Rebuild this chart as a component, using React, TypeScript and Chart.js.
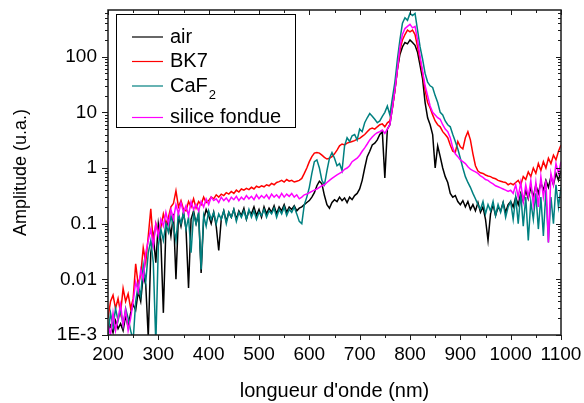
import React, { useEffect, useRef } from 'react';
import { Chart, registerables } from 'chart.js';

Chart.register(...registerables);

// Spectra sampled every 5 nm from 200 nm to 1100 nm
const WL_START = 200;
const WL_STEP = 5;

const air = [
  0.0012, 0.0015, 0.0011, 0.0018, 0.0013, 0.0016, 0.0012, 0.0022, 0.0014, 0.0025,
  0.0035, 0.0028, 0.006, 0.004, 0.012, 0.008, 0.0009, 0.03, 0.06, 0.02,
  0.1, 0.05, 0.0025, 0.08, 0.12, 0.06, 0.15, 0.01, 0.14, 0.09,
  0.16, 0.08, 0.007, 0.12, 0.17, 0.1, 0.15, 0.013, 0.12, 0.18,
  0.14, 0.1, 0.16, 0.09, 0.033, 0.12, 0.17, 0.11, 0.16, 0.13,
  0.18, 0.12, 0.17, 0.14, 0.19, 0.12, 0.17, 0.15, 0.2, 0.14,
  0.18, 0.13, 0.2, 0.15, 0.19, 0.16, 0.21, 0.15, 0.2, 0.17,
  0.22, 0.16, 0.2, 0.18, 0.21, 0.17, 0.19, 0.2, 0.22, 0.24,
  0.26, 0.3, 0.36, 0.48, 0.58, 0.52, 0.32, 0.22, 0.19, 0.24,
  0.27, 0.25, 0.3, 0.26, 0.29, 0.24, 0.3, 0.27, 0.32, 0.35,
  0.42, 0.6, 1.0, 1.6, 2.0, 2.6, 2.8, 3.2, 4.0, 4.5,
  0.66, 5.0, 6.0, 12, 25, 60, 110, 150, 180, 170,
  200, 180, 160, 120, 70, 40, 15, 8, 6, 4,
  1.0, 2.5, 1.6, 1.0, 0.7, 0.55, 0.35, 0.3, 0.32, 0.25,
  0.22, 0.26, 0.2, 0.25, 0.18, 0.22, 0.17, 0.24, 0.16, 0.2,
  0.12, 0.05, 0.15, 0.22, 0.14, 0.2, 0.17, 0.24, 0.16, 0.22,
  0.25, 0.2, 0.3, 0.22, 0.35, 0.25, 0.4, 0.28, 0.45, 0.3,
  0.5, 0.35, 0.55, 0.4, 0.6, 0.45, 0.7, 0.5, 0.8, 0.6,
  0.9,
];

const bk7 = [
  0.002, 0.004, 0.0052, 0.003, 0.0045, 0.0025, 0.0069, 0.004, 0.0055, 0.003,
  0.0045, 0.019, 0.008, 0.012, 0.037, 0.02, 0.06, 0.185, 0.044, 0.1,
  0.07, 0.085, 0.15, 0.1, 0.13, 0.2, 0.23, 0.39, 0.2, 0.26,
  0.18, 0.17, 0.25, 0.2, 0.28, 0.19, 0.25, 0.22, 0.3, 0.24,
  0.26, 0.3, 0.28, 0.33, 0.3, 0.34, 0.32, 0.36, 0.34, 0.38,
  0.35, 0.4, 0.37, 0.42, 0.4, 0.43, 0.41, 0.45, 0.42, 0.47,
  0.45, 0.48, 0.46, 0.5, 0.48, 0.53, 0.5, 0.55, 0.57, 0.6,
  0.56, 0.62, 0.58, 0.6, 0.56, 0.58, 0.6, 0.65, 0.8, 1.0,
  1.3, 1.6, 1.85, 1.9, 1.85, 1.7, 1.55, 1.45, 1.5, 1.6,
  1.8, 2.1, 2.5, 2.7, 2.6, 2.8, 2.9, 3.0, 3.1, 3.3,
  3.4, 3.7, 4.0, 4.5, 5.0, 5.2, 5.0, 5.5, 6.0, 6.2,
  5.5, 6.5, 7, 12, 25, 60, 130, 200, 250, 300,
  280, 300, 250, 150, 90, 50, 25, 15, 12, 9,
  7, 6, 5.5, 4.5, 4.0, 3.5, 2.6, 2.0, 1.9, 3.0,
  2.4, 2.2, 3.5, 4.5, 3.2, 1.8, 1.1, 0.88, 0.82, 0.8,
  0.75, 0.72, 0.7, 0.66, 0.64, 0.6, 0.58, 0.56, 0.55, 0.5,
  0.53, 0.5, 0.55, 0.6, 0.5, 0.7, 0.62, 0.85, 0.7, 1.0,
  0.8, 1.2, 0.9, 1.3, 1.0, 1.5, 1.2, 1.7, 1.4, 2.0,
  2.6,
];

const caf2 = [
  0.001, 0.0025, 0.0014, 0.003, 0.0018, 0.0028, 0.0015, 0.003, 0.002, 0.0012,
  0.0008, 0.004, 0.008, 0.005, 0.018, 0.009, 0.03, 0.05, 0.02, 0.0007,
  0.04, 0.08, 0.05, 0.1, 0.07, 0.14, 0.09, 0.05, 0.15, 0.1,
  0.16, 0.08, 0.13, 0.03, 0.15, 0.1, 0.16, 0.015, 0.14, 0.09,
  0.17, 0.12, 0.16, 0.1, 0.15, 0.12, 0.17, 0.1, 0.16, 0.13,
  0.18, 0.11, 0.16, 0.13, 0.17, 0.12, 0.18, 0.13, 0.17, 0.12,
  0.16, 0.14, 0.18, 0.13, 0.17, 0.15, 0.19, 0.13, 0.18, 0.15,
  0.2, 0.14, 0.18, 0.16, 0.2, 0.15, 0.11, 0.1, 0.22, 0.3,
  0.45, 0.8, 1.3, 1.4, 1.0, 0.6, 0.5, 0.9, 1.5, 1.9,
  1.5, 1.1, 1.2, 0.9, 2.5, 3.5, 3.0, 3.8, 4.0, 3.2,
  5.0, 4.5, 6.5, 8.0, 9.5, 8.5, 7.5, 6.5, 7.0, 8.5,
  10, 13, 9, 18, 35, 90, 200, 400, 500, 450,
  600, 550, 600, 300, 150, 90, 50, 35, 30, 28,
  20, 15, 10, 9, 7, 6, 5.5, 4, 3, 2.2,
  1.5, 1.0, 0.7, 0.55, 0.45, 0.35, 0.28, 0.22, 0.18, 0.25,
  0.15, 0.22, 0.17, 0.25, 0.14, 0.22, 0.16, 0.24, 0.13, 0.2,
  0.25, 0.12, 0.3, 0.1, 0.35, 0.09, 0.3, 0.05, 0.25, 0.12,
  0.35, 0.08, 0.3, 0.06, 0.4, 0.046, 0.3, 0.1, 0.5, 0.2,
  0.45,
];

const siliceFondue = [
  0.0015, 0.001, 0.0025, 0.0012, 0.002, 0.0035, 0.0015, 0.0028, 0.0012, 0.002,
  0.004, 0.009, 0.006, 0.015, 0.01, 0.03, 0.05, 0.08, 0.04, 0.1,
  0.06, 0.12, 0.09, 0.16, 0.1, 0.18, 0.12, 0.22, 0.15, 0.24,
  0.16, 0.21, 0.14, 0.25, 0.18, 0.22, 0.17, 0.25, 0.2, 0.28,
  0.22, 0.3, 0.26, 0.28, 0.24, 0.3, 0.26, 0.29, 0.25, 0.3,
  0.27, 0.31, 0.26, 0.3, 0.27, 0.32, 0.28, 0.31, 0.27, 0.33,
  0.28, 0.32, 0.29, 0.33, 0.28, 0.34, 0.3, 0.33, 0.29, 0.35,
  0.3, 0.34, 0.31, 0.35, 0.3, 0.33, 0.28, 0.3, 0.33, 0.34,
  0.36, 0.38, 0.4, 0.42, 0.45, 0.48, 0.5, 0.55, 0.6, 0.65,
  0.7, 0.75, 0.8, 0.85, 0.95, 1.0, 1.1, 1.3, 1.4, 1.5,
  1.7, 2.0, 2.3, 2.7, 3.2, 3.6, 4.0, 4.3, 4.5, 4.8,
  4.2, 5.0, 6, 12, 25, 60, 150, 250, 320, 350,
  380, 330, 350, 200, 100, 55, 30, 20, 13, 10,
  9, 8, 7.5, 6, 5, 4.5, 3.5, 2.3, 1.8, 1.6,
  1.4, 1.3, 1.2, 1.05, 0.95, 0.9, 0.85, 0.8, 0.72, 0.68,
  0.62, 0.6, 0.55, 0.52, 0.48, 0.46, 0.44, 0.42, 0.4, 0.38,
  0.4, 0.35, 0.5, 0.3, 0.55, 0.25, 0.5, 0.3, 0.6, 0.22,
  0.55, 0.2, 0.7, 0.3, 0.6, 0.046, 0.8, 0.5, 1.2, 0.8,
  1.3,
];

const seriesNames = ['air', 'BK7', 'CaF2', 'silice fondue'];
const seriesColors = ['#000000', '#ff0000', '#008080', '#ff00ff'];

const xTickValues = [200, 300, 400, 500, 600, 700, 800, 900, 1000, 1100];
const xMinorValues = [250, 350, 450, 550, 650, 750, 850, 950, 1050];
const yTickValues = [0.001, 0.01, 0.1, 1, 10, 100];
const yTickLabels = ['1E-3', '0.01', '0.1', '1', '10', '100'];

const X_MIN = 200;
const X_MAX = 1100;
const Y_MIN = 0.001;
const Y_MAX = 690;

const FONT = '"Liberation Sans", Arial, Helvetica, sans-serif';

const framePlugin = {
  id: 'frame',
  afterDatasetsDraw(chart: any) {
    const { ctx, chartArea } = chart;
    const { left, right, top, bottom } = chartArea;
    const xs = chart.scales.x;
    const ys = chart.scales.y;
    ctx.save();
    ctx.strokeStyle = '#1a1a1a';
    ctx.lineWidth = 1;
    ctx.beginPath();
    xTickValues.forEach((v) => {
      const px = Math.round(xs.getPixelForValue(v)) + 0.5;
      ctx.moveTo(px, bottom); ctx.lineTo(px, bottom + 5);
      ctx.moveTo(px, top); ctx.lineTo(px, top + 5);
    });
    xMinorValues.forEach((v) => {
      const px = Math.round(xs.getPixelForValue(v)) + 0.5;
      ctx.moveTo(px, bottom); ctx.lineTo(px, bottom + 3);
      ctx.moveTo(px, top); ctx.lineTo(px, top + 3);
    });
    yTickValues.forEach((v) => {
      const py = Math.round(ys.getPixelForValue(v)) + 0.5;
      ctx.moveTo(left, py); ctx.lineTo(left - 6, py);
      ctx.moveTo(right, py); ctx.lineTo(right - 5, py);
    });
    for (let e = -3; e <= 2; e++) {
      for (let m = 2; m <= 9; m++) {
        const v = m * Math.pow(10, e);
        if (v > Y_MAX) continue;
        const py = Math.round(ys.getPixelForValue(v)) + 0.5;
        ctx.moveTo(left, py); ctx.lineTo(left - 3, py);
        ctx.moveTo(right, py); ctx.lineTo(right - 3, py);
      }
    }
    ctx.stroke();
    ctx.lineWidth = 1.5;
    ctx.strokeRect(left, top, right - left, bottom - top);
    ctx.restore();
  },
};

const legendPlugin = {
  id: 'customLegend',
  afterDraw(chart: any) {
    const { ctx } = chart;
    ctx.save();
    ctx.fillStyle = '#ffffff';
    ctx.fillRect(116.5, 14.5, 179, 113);
    ctx.strokeStyle = '#000000';
    ctx.lineWidth = 1;
    ctx.strokeRect(116.5, 14.5, 179, 113);
    const rows = [37, 61.5, 86, 117.5];
    ctx.font = `20px ${FONT}`;
    ctx.textBaseline = 'middle';
    ctx.textAlign = 'left';
    seriesNames.forEach((name, i) => {
      const y = rows[i];
      ctx.strokeStyle = seriesColors[i];
      ctx.lineWidth = 1.2;
      ctx.beginPath();
      ctx.moveTo(132, y);
      ctx.lineTo(163, y);
      ctx.stroke();
      ctx.fillStyle = '#000000';
      if (name === 'CaF2') {
        ctx.font = `20px ${FONT}`;
        ctx.fillText('CaF', 170, y);
        const w = ctx.measureText('CaF').width;
        ctx.font = `13px ${FONT}`;
        ctx.fillText('2', 170 + w + 1, y + 9);
        ctx.font = `20px ${FONT}`;
      } else {
        ctx.fillText(name, 170, y);
      }
    });
    ctx.restore();
  },
};

export default function App() {
  const canvasRef = useRef<HTMLCanvasElement | null>(null);

  useEffect(() => {
    document.body.style.margin = '0';
    const canvas = canvasRef.current;
    if (!canvas) return;
    const wavelengths = air.map((_, i) => WL_START + i * WL_STEP);
    const allSeries = [air, bk7, caf2, siliceFondue];
    const datasets = allSeries.map((vals, i) => ({
      label: seriesNames[i],
      data: vals.map((v, j) => ({ x: wavelengths[j], y: v })),
      borderColor: seriesColors[i],
      backgroundColor: seriesColors[i],
      borderWidth: 1.5,
      pointRadius: 0,
      tension: 0,
      order: 3 - i,
    }));

    const chart = new Chart(canvas, {
      type: 'line',
      data: { datasets },
      options: {
        animation: false,
        responsive: false,
        devicePixelRatio: 1,
        layout: { padding: { top: 10, right: 23, left: 0, bottom: 0 } },
        plugins: {
          legend: { display: false },
          tooltip: { enabled: false },
        },
        scales: {
          x: {
            type: 'linear',
            min: X_MIN,
            max: X_MAX,
            afterBuildTicks: (scale: any) => {
              scale.ticks = xTickValues.map((v) => ({ value: v }));
            },
            afterFit: (scale: any) => {
              scale.height = 68;
              scale.paddingLeft = 0;
              scale.paddingRight = 0;
              scale.paddingTop = 0;
              scale.paddingBottom = 0;
            },
            grid: { display: false, drawTicks: false },
            border: { display: false },
            ticks: {
              autoSkip: false,
              maxRotation: 0,
              minRotation: 0,
              padding: 8,
              color: '#000000',
              font: { family: FONT, size: 19 },
              callback: (v: any) => String(v),
            },
            title: {
              display: true,
              text: "longueur d'onde (nm)",
              color: '#000000',
              font: { family: FONT, size: 20 },
              padding: { top: 0, bottom: 0 },
            },
          },
          y: {
            type: 'logarithmic',
            min: Y_MIN,
            max: Y_MAX,
            afterBuildTicks: (scale: any) => {
              scale.ticks = yTickValues.map((v) => ({ value: v }));
            },
            afterFit: (scale: any) => {
              scale.width = 108;
              scale.paddingLeft = 0;
              scale.paddingRight = 0;
              scale.paddingTop = 0;
              scale.paddingBottom = 0;
            },
            grid: { display: false, drawTicks: false },
            border: { display: false },
            ticks: {
              autoSkip: false,
              padding: 11,
              color: '#000000',
              font: { family: FONT, size: 19 },
              callback: (_v: any, idx: number) => yTickLabels[idx],
            },
            title: {
              display: true,
              text: 'Amplitude (u.a.)',
              color: '#000000',
              font: { family: FONT, size: 18 },
              padding: { top: 10, bottom: 0 },
            },
          },
        },
      },
      plugins: [framePlugin, legendPlugin],
    });

    return () => {
      chart.destroy();
    };
  }, []);

  return (
    <div style={{ width: 584, height: 403 }}>
      <canvas ref={canvasRef} width={584} height={403} />
    </div>
  );
}
